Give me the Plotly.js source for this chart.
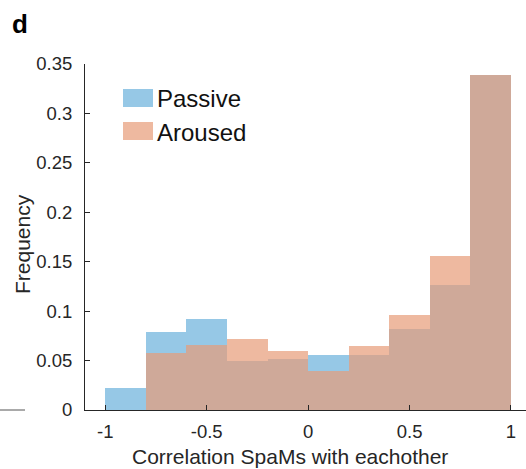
<!DOCTYPE html>
<html>
<head>
<meta charset="utf-8">
<script src="https://cdn.plot.ly/plotly-3.0.1.min.js"></script>
<style>html,body{margin:0;padding:0;background:#fff;}#chart{width:526px;height:469px;}</style>
</head>
<body>
<div id="chart"></div>
<script>
// Histogram bin edges (correlation)
const binEdges = [-1, -0.8, -0.6, -0.4, -0.2, 0, 0.2, 0.4, 0.6, 0.8, 1.0];
// Frequencies per bin
const passive = [0.022, 0.079, 0.092, 0.050, 0.052, 0.056, 0.056, 0.082, 0.126, 0.339];
const aroused = [0.000, 0.058, 0.066, 0.072, 0.060, 0.039, 0.065, 0.096, 0.156, 0.339];
const seriesNames = ["Passive", "Aroused"];
const xTickVals = [-1, -0.5, 0, 0.5, 1];
const xTickText = ["-1", "-0.5", "0", "0.5", "1"];
const yTickVals = [0, 0.05, 0.1, 0.15, 0.2, 0.25, 0.3, 0.35];
const yTickText = ["0", "0.05", "0.1", "0.15", "0.2", "0.25", "0.3", "0.35"];
const xTitle = "Correlation SpaMs with eachother";
const yTitle = "Frequency";

const centers = binEdges.slice(0, -1).map((e, i) => (e + binEdges[i + 1]) / 2);
const widths = binEdges.slice(0, -1).map((e, i) => binEdges[i + 1] - e);

const blue = "rgb(150,200,230)";
const orange = "rgba(231,155,119,0.7)";
const txt = "#262626";
const font = "Liberation Sans, Arial, Helvetica, sans-serif";

const traces = [
  {type: "bar", name: seriesNames[0], x: centers, y: passive, width: widths,
   marker: {color: blue, line: {width: 0}}, hoverinfo: "x+y"},
  {type: "bar", name: seriesNames[1], x: centers, y: aroused, width: widths,
   marker: {color: orange, line: {width: 0}}, hoverinfo: "x+y"}
];

// plot area: left 85, top 64, width 441, height 346
const px = (p) => (p - 85) / 441;
const py = (p) => (410 - p) / 346;

const layout = {
  width: 526, height: 469,
  margin: {l: 85, r: 0, t: 64, b: 59},
  paper_bgcolor: "#fff", plot_bgcolor: "#fff",
  barmode: "overlay", bargap: 0,
  showlegend: false,
  font: {family: font, color: txt, size: 19},
  xaxis: {
    range: [-1.1, 1.074], tickvals: xTickVals, ticktext: xTickText,
    ticks: "inside", ticklen: 5, tickcolor: txt, tickwidth: 1,
    showline: true, linecolor: txt, linewidth: 1, showgrid: false, zeroline: false,
    tickfont: {size: 18.5, color: txt}, ticklabelstandoff: 5,
    automargin: false
  },
  yaxis: {
    range: [0, 0.35], tickvals: yTickVals, ticktext: yTickText,
    ticks: "inside", ticklen: 5, tickcolor: txt, tickwidth: 1,
    showline: true, linecolor: txt, linewidth: 1, showgrid: false, zeroline: false,
    tickfont: {size: 18.5, color: txt}, ticklabelstandoff: 8,
    automargin: false
  },
  shapes: [
    {type: "rect", xref: "paper", yref: "paper", x0: px(123), x1: px(153),
     y0: py(107), y1: py(89), fillcolor: blue, line: {width: 0}},
    {type: "rect", xref: "paper", yref: "paper", x0: px(123), x1: px(153),
     y0: py(140), y1: py(122), fillcolor: orange, line: {width: 0}},
    {type: "line", xref: "paper", yref: "paper", x0: px(0), x1: px(25), y0: 0, y1: 0,
     line: {color: "#555", width: 1}}
  ],
  annotations: [
    {xref: "paper", yref: "paper", x: px(155), y: py(98), xanchor: "left", yanchor: "middle",
     text: seriesNames[0], showarrow: false, font: {size: 24, color: "#111"}},
    {xref: "paper", yref: "paper", x: px(155), y: py(132), xanchor: "left", yanchor: "middle",
     text: seriesNames[1], showarrow: false, font: {size: 24, color: "#111"}},
    {xref: "paper", yref: "paper", x: px(10), y: py(24), xanchor: "left", yanchor: "middle",
     text: "<b>d</b>", showarrow: false, font: {size: 26, color: "#000"}},
    {xref: "paper", yref: "paper", x: px(290), y: py(456), xanchor: "center", yanchor: "middle",
     text: xTitle, showarrow: false, font: {size: 21, color: txt}},
    {xref: "paper", yref: "paper", x: px(22), y: py(244), xanchor: "center", yanchor: "middle",
     text: yTitle, textangle: -90, showarrow: false, font: {size: 21, color: txt}}
  ]
};

Plotly.newPlot("chart", traces, layout, {displayModeBar: false, staticPlot: true});
</script>
</body>
</html>
